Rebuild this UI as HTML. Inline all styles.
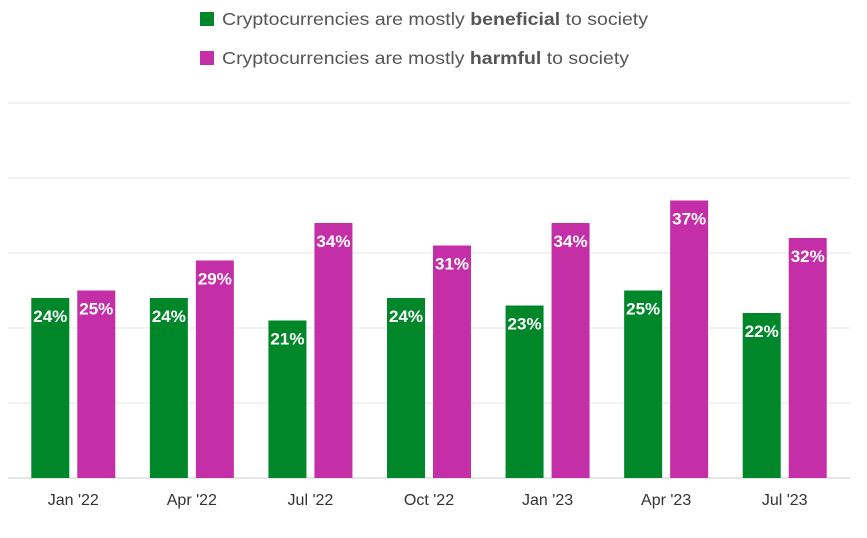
<!DOCTYPE html>
<html><head><meta charset="utf-8"><style>
body{margin:0;background:#fff;font-family:"Liberation Sans",sans-serif;}
svg{display:block}
</style></head><body>
<svg id="chart" width="867" height="538">
<g>
<g>
<rect x="200" y="12" width="14" height="14" fill="#00872a"/>
<text x="222" y="25" font-size="17.5" fill="#555" textLength="426" lengthAdjust="spacingAndGlyphs">Cryptocurrencies are mostly <tspan font-weight="bold">beneficial</tspan> to society</text>
</g>
<g>
<rect x="200" y="51" width="14" height="14" fill="#c42fa8"/>
<text x="222" y="64" font-size="17.5" fill="#555" textLength="407" lengthAdjust="spacingAndGlyphs">Cryptocurrencies are mostly <tspan font-weight="bold">harmful</tspan> to society</text>
</g>
</g>
<g id="grid"></g>
<g id="bars"></g>
<g id="xaxis"></g>
</svg>
<script>
const categories=["Jan '22","Apr '22","Jul '22","Oct '22","Jan '23","Apr '23","Jul '23"];
const beneficial=[24,24,21,24,23,25,22];
const harmful=[25,29,34,31,34,37,32];
const yTicks=[0,10,20,30,40,50];
const NS="http://www.w3.org/2000/svg";
const y0=478,pxPer=7.5,left=14,right=844;
const y=v=>y0-v*pxPer;
const band=(right-left)/categories.length;
const cx=i=>left+band*(i+0.5);
function mk(t,a,p){const e=document.createElementNS(NS,t);for(const k in a)e.setAttribute(k,a[k]);p.appendChild(e);return e;}
const grid=document.getElementById('grid');
yTicks.forEach(v=>{const l=mk('line',{x1:8,x2:850,y1:y(v),y2:y(v),stroke:v===0?'#ccc':'#e6e6e6','stroke-width':1},grid);

});
const bars=document.getElementById('bars'),xa=document.getElementById('xaxis');
const bw=38,gap=8;
categories.forEach((c,i)=>{
 [[beneficial[i],'#00872a',-1,'bar-beneficial'],[harmful[i],'#c42fa8',1,'bar-harmful']].forEach(([v,col,s,nm])=>{
  const x=s<0?cx(i)-gap/2-bw:cx(i)+gap/2;
  const r=mk('rect',{x:x,y:y(v),width:bw,height:v*pxPer,fill:col},bars);
  
  
  const t=mk('text',{x:x+bw/2,y:y(v)+24,'text-anchor':'middle','font-size':17,'font-weight':'bold',fill:'#fff'},bars);
  t.textContent=v+'%';
  
  
 });
 const t=mk('text',{x:cx(i),y:505,'text-anchor':'middle','font-size':16,fill:'#333'},xa);
 t.textContent=c;
 
 
});
</script>
</body></html>
